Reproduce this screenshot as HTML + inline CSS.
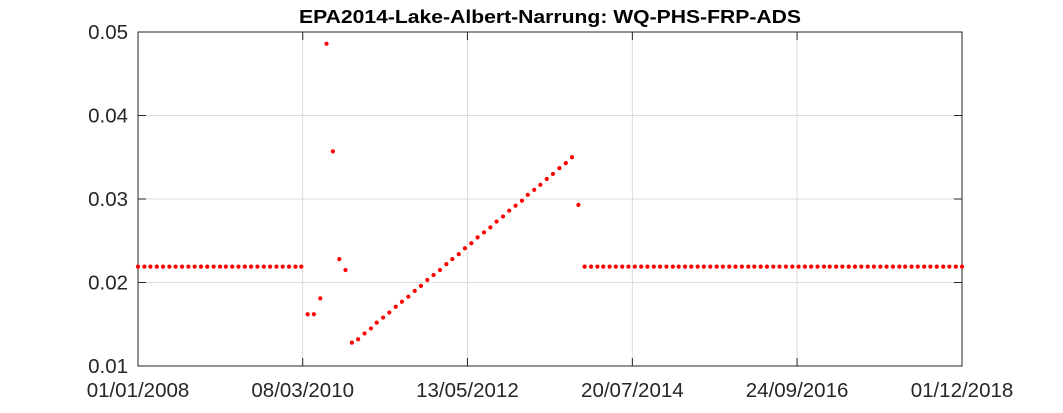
<!DOCTYPE html>
<html><head><meta charset="utf-8"><style>
body{margin:0;background:#fff;width:1063px;height:413px;overflow:hidden}
svg{display:block;font-family:"Liberation Sans",Arial,sans-serif}
</style></head><body>
<svg id="chart" width="1063" height="413" viewBox="0 0 1063 413"></svg>
<script>
const startYear = 2008;
const values = [
0.0219,0.0219,0.0219,0.0219,0.0219,0.0219,0.0219,0.0219,0.0219,0.0219,
0.0219,0.0219,0.0219,0.0219,0.0219,0.0219,0.0219,0.0219,0.0219,0.0219,
0.0219,0.0219,0.0219,0.0219,0.0219,0.0219,0.0219,
0.0162,0.0162,0.0181,0.0486,0.0357,0.0228,0.0215,
0.0128,0.0132,0.0139,0.0145,0.0152,0.0158,0.0164,0.0171,0.0177,0.0183,
0.0190,0.0196,0.0203,0.0209,0.0215,0.0222,0.0228,0.0234,0.0241,0.0247,
0.0254,0.0260,0.0266,0.0273,0.0279,0.0286,0.0292,0.0298,0.0305,0.0311,
0.0317,0.0324,0.0330,0.0337,0.0343,0.0350,
0.0293,
0.0219,0.0219,0.0219,0.0219,0.0219,0.0219,0.0219,0.0219,0.0219,0.0219,
0.0219,0.0219,0.0219,0.0219,0.0219,0.0219,0.0219,0.0219,0.0219,0.0219,
0.0219,0.0219,0.0219,0.0219,0.0219,0.0219,0.0219,0.0219,0.0219,0.0219,
0.0219,0.0219,0.0219,0.0219,0.0219,0.0219,0.0219,0.0219,0.0219,0.0219,
0.0219,0.0219,0.0219,0.0219,0.0219,0.0219,0.0219,0.0219,0.0219,0.0219,
0.0219,0.0219,0.0219,0.0219,0.0219,0.0219,0.0219,0.0219,0.0219,0.0219,
0.0219
];
const xTickLabels = ["01/01/2008","08/03/2010","13/05/2012","20/07/2014","24/09/2016","01/12/2018"];
const yTicks = [0.01,0.02,0.03,0.04,0.05];
const yTickLabels = ["0.01","0.02","0.03","0.04","0.05"];

const L=138,R=962,T=32,B=366;
const t0=Date.UTC(2008,0,1), t1=Date.UTC(2018,11,1);
const yMin=0.01,yMax=0.05;
function xs(t){return L+(t-t0)/(t1-t0)*(R-L);}
function ys(v){return B-(v-yMin)/(yMax-yMin)*(B-T);}
function parseD(s){const p=s.split('/');return Date.UTC(+p[2],+p[1]-1,+p[0]);}
const NS="http://www.w3.org/2000/svg";
const svg=document.getElementById('chart');
function mk(tag,attrs,parent){const e=document.createElementNS(NS,tag);for(const k in attrs)e.setAttribute(k,attrs[k]);(parent||svg).appendChild(e);return e;}

const bg=mk('rect',{x:L,y:T,width:R-L,height:B-T,fill:'#fff'});



xTickLabels.forEach((s,i)=>{
  const x=xs(parseD(s));
  const g=mk('line',{x1:x,x2:x,y1:T,y2:B,stroke:'#dcdcdc','stroke-width':1});
  
  
  mk('line',{x1:x,x2:x,y1:B,y2:B-8,stroke:'#262626'});
  mk('line',{x1:x,x2:x,y1:T,y2:T+8,stroke:'#262626'});
  const tx=mk('text',{x:x,y:397,'text-anchor':'middle','font-size':'20.5',fill:'#262626'});
  tx.textContent=s;
  
  
});
yTicks.forEach((v,i)=>{
  const y=ys(v);
  const g=mk('line',{x1:L,x2:R,y1:y,y2:y,stroke:'#dcdcdc','stroke-width':1});
  
  
  mk('line',{x1:L,x2:L+8,y1:y,y2:y,stroke:'#262626'});
  mk('line',{x1:R,x2:R-8,y1:y,y2:y,stroke:'#262626'});
  const tx=mk('text',{x:L-10,y:y+7,'text-anchor':'end','font-size':'20.5',fill:'#262626'});
  tx.textContent=yTickLabels[i];
  
  
});
const fr=mk('rect',{x:L,y:T,width:R-L,height:B-T,fill:'none',stroke:'#262626','stroke-width':1});



values.forEach((v,i)=>{
  const c=mk('circle',{cx:xs(Date.UTC(startYear,i,1)),cy:ys(v),r:2.1,fill:'#ff0000'});
  
  
});

const title=mk('text',{x:(L+R)/2,y:23,'text-anchor':'middle','font-size':'18','font-weight':'bold',fill:'#000',textLength:'502',lengthAdjust:'spacingAndGlyphs'});
title.textContent='EPA2014-Lake-Albert-Narrung: WQ-PHS-FRP-ADS';


</script>
</body></html>
